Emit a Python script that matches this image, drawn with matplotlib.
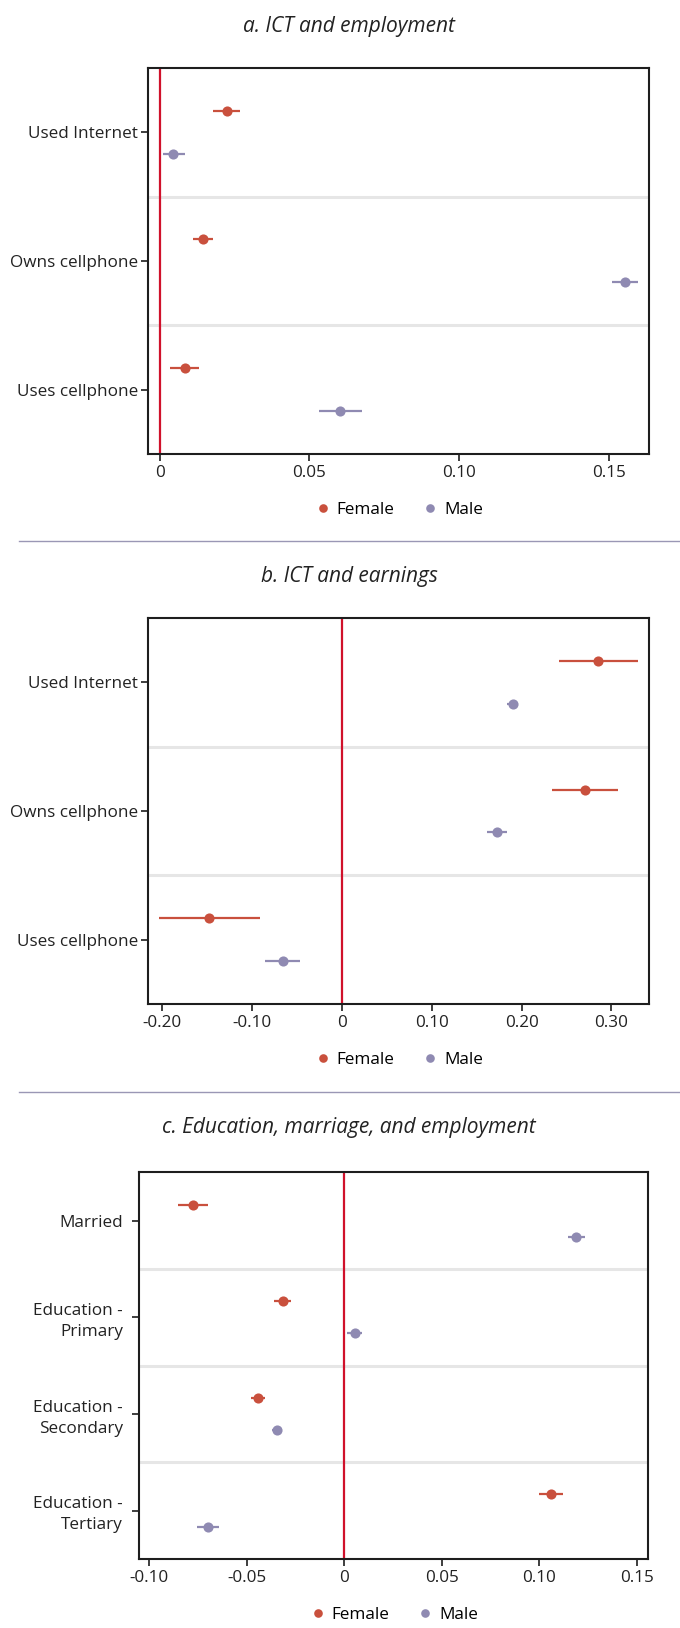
import matplotlib
matplotlib.use("Agg")
import matplotlib.pyplot as plt
from matplotlib.lines import Line2D

plt.rcParams["font.family"] = ["Open Sans", "DejaVu Sans"]

FEMALE_COLOR = "#c9503d"
MALE_COLOR = "#8f8ab2"
ZERO_COLOR = "#d0112b"
BAND_COLOR = "#e6e6e6"
SPINE_COLOR = "#1e1e1e"
RULE_COLOR = "#9a97b5"

# ---- a. ICT and employment ----
a_title = "a. ICT and employment"
a_categories = ["Used Internet", "Owns cellphone", "Uses cellphone"]
a_female = [0.0224, 0.0144, 0.0084]
a_female_lo = [0.0178, 0.0110, 0.0035]
a_female_hi = [0.0270, 0.0178, 0.0133]
a_male = [0.0046, 0.1555, 0.0604]
a_male_lo = [0.0012, 0.1512, 0.0532]
a_male_hi = [0.0083, 0.1600, 0.0675]
a_xticks = [0.0, 0.05, 0.10, 0.15]
a_xticklabels = ["0", "0.05", "0.10", "0.15"]
a_xlim = (-0.0038, 0.1636)

# ---- b. ICT and earnings ----
b_title = "b. ICT and earnings"
b_categories = ["Used Internet", "Owns cellphone", "Uses cellphone"]
b_female = [0.2854, 0.2705, -0.1470]
b_female_lo = [0.2420, 0.2343, -0.2035]
b_female_hi = [0.3290, 0.3070, -0.0906]
b_male = [0.1900, 0.1730, -0.0656]
b_male_lo = [0.1840, 0.1620, -0.0853]
b_male_hi = [0.1960, 0.1840, -0.0463]
b_xticks = [-0.20, -0.10, 0.0, 0.10, 0.20, 0.30]
b_xticklabels = ["-0.20", "-0.10", "0", "0.10", "0.20", "0.30"]
b_xlim = (-0.215, 0.342)

# ---- c. Education, marriage, and employment ----
c_title = "c. Education, marriage, and employment"
c_categories = ["Married", "Education -\nPrimary", "Education -\nSecondary",
                "Education -\nTertiary"]
c_female = [-0.0773, -0.0316, -0.0440, 0.1058]
c_female_lo = [-0.0851, -0.0358, -0.0476, 0.0998]
c_female_hi = [-0.0696, -0.0273, -0.0404, 0.1122]
c_male = [0.1189, 0.0053, -0.0344, -0.0698]
c_male_lo = [0.1144, 0.0016, -0.0371, -0.0753]
c_male_hi = [0.1236, 0.0093, -0.0318, -0.0642]
c_xticks = [-0.10, -0.05, 0.0, 0.05, 0.10, 0.15]
c_xticklabels = ["-0.10", "-0.05", "0", "0.05", "0.10", "0.15"]
c_xlim = (-0.1053, 0.1558)

W, H = 680, 1628
fig = plt.figure(figsize=(W / 100, H / 100), dpi=100)

TICK_FS = 12.3
TITLE_FS = 15.0


def px_axes(left, top, right, bottom):
    return fig.add_axes([left / W, 1 - bottom / H, (right - left) / W, (bottom - top) / H])


def coef_panel(ax, cats, fem, fem_lo, fem_hi, mal, mal_lo, mal_hi, xticks, xticklabels,
               xlim, ypad):
    n = len(cats)
    pos = list(range(n))
    off = 1 / 6
    for i in range(n - 1):
        ax.axhline(i + 0.5, color=BAND_COLOR, lw=2.2, zorder=1)
    ax.axvline(0, color=ZERO_COLOR, lw=1.6, zorder=2)
    for i in pos:
        ax.plot([fem_lo[i], fem_hi[i]], [i - off, i - off], color=FEMALE_COLOR, lw=1.6,
                solid_capstyle="butt", zorder=3)
        ax.plot([mal_lo[i], mal_hi[i]], [i + off, i + off], color=MALE_COLOR, lw=1.6,
                solid_capstyle="butt", zorder=3)
    ax.plot(fem, [p - off for p in pos], "o", color=FEMALE_COLOR, ms=7.3, mew=0, zorder=4)
    ax.plot(mal, [p + off for p in pos], "o", color=MALE_COLOR, ms=7.3, mew=0, zorder=4)
    ax.set_ylim(n - 0.5, -0.5)
    ax.set_xlim(*xlim)
    ax.set_yticks(pos)
    ax.set_yticklabels(cats, fontsize=TICK_FS, color="#222222", linespacing=1.4)
    ax.set_xticks(xticks)
    ax.set_xticklabels(xticklabels, fontsize=TICK_FS, color="#222222")
    for s in ax.spines.values():
        s.set_color(SPINE_COLOR)
        s.set_linewidth(1.5)
    ax.tick_params(axis="both", length=5, width=1.2, color=SPINE_COLOR)
    ax.tick_params(axis="x", pad=3)
    ax.tick_params(axis="y", pad=ypad)
    handles = [
        Line2D([], [], ls="none", marker="o", ms=6.2, mew=0, color=FEMALE_COLOR),
        Line2D([], [], ls="none", marker="o", ms=6.2, mew=0, color=MALE_COLOR),
    ]
    ax.legend(handles, ["Female", "Male"], loc="center", bbox_to_anchor=(0.5, -0.146),
              ncol=2, frameon=False, fontsize=TICK_FS, handletextpad=0.3,
              columnspacing=1.6, handlelength=1.0, borderaxespad=0)


ax_a = px_axes(148.3, 67.8, 649.2, 453.9)
coef_panel(ax_a, a_categories, a_female, a_female_lo, a_female_hi,
           a_male, a_male_lo, a_male_hi, a_xticks, a_xticklabels, a_xlim, 2.2)

ax_b = px_axes(148.3, 617.9, 649.2, 1004.0)
coef_panel(ax_b, b_categories, b_female, b_female_lo, b_female_hi,
           b_male, b_male_lo, b_male_hi, b_xticks, b_xticklabels, b_xlim, 2.2)

ax_c = px_axes(138.8, 1172.4, 648.3, 1558.8)
coef_panel(ax_c, c_categories, c_female, c_female_lo, c_female_hi,
           c_male, c_male_lo, c_male_hi, c_xticks, c_xticklabels, c_xlim, 6.3)

for title, yc in [(a_title, 26.8), (b_title, 576.7), (c_title, 1127.0)]:
    fig.text(349 / W, 1 - yc / H, title, ha="center", va="center",
             fontsize=TITLE_FS, style="italic", color="#222222")

# thin rules separating the panels
for yr in [541.3, 1091.8]:
    fig.add_artist(Line2D([18.7 / W, 1.0], [1 - yr / H, 1 - yr / H],
                          transform=fig.transFigure, color=RULE_COLOR, lw=1.0))

fig.savefig("out.png", dpi=100, facecolor="white")
